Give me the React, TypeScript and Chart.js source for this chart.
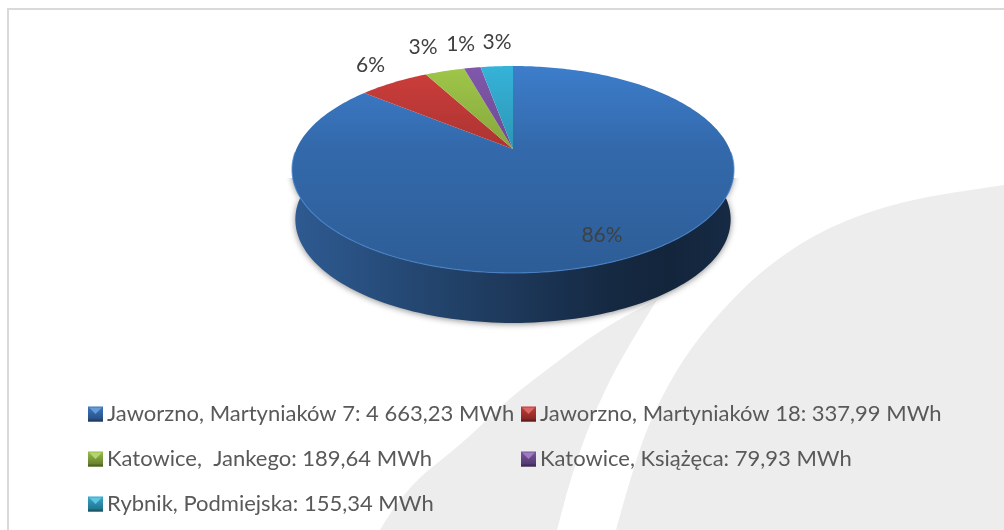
import React, { useEffect, useRef } from "react";
import { Chart, registerables } from "chart.js";

Chart.register(...registerables);

const places = [
  "Jaworzno, Martyniaków 7",
  "Jaworzno, Martyniaków 18",
  "Katowice,  Jankego",
  "Katowice, Książęca",
  "Rybnik, Podmiejska",
];
const energyMWh = [4663.23, 337.99, 189.64, 79.93, 155.34];
const sliceColors = ["#3D7DCB", "#CD3E3B", "#9FC749", "#8158AC", "#35B3D8"];

const W = 1004;
const H = 530;
const FONT = "Lato, 'Open Sans', sans-serif";

// Perspective of the disc
const P = { cx: 513, cy: 149, A: 216.6, B: 99.4, a: 0.198, depth: 50, baseScale: 0.985 };

const proj = (phi: number, t = 1) => {
  const w = 1 + P.a * t * Math.cos(phi);
  return { x: P.cx + (P.A * t * Math.sin(phi)) / w, y: P.cy - (P.B * t * Math.cos(phi)) / w };
};
const projBase = (phi: number) => {
  const p = proj(phi);
  return { x: P.cx + (p.x - P.cx) * P.baseScale, y: p.y + P.depth };
};

const shade = (hex: string, f: number) => {
  const n = parseInt(hex.slice(1), 16);
  const c = [(n >> 16) & 255, (n >> 8) & 255, n & 255].map((v) => Math.round(v * f));
  return `rgb(${c[0]},${c[1]},${c[2]})`;
};
const lighten = (hex: string, f: number) => {
  const n = parseInt(hex.slice(1), 16);
  const c = [(n >> 16) & 255, (n >> 8) & 255, n & 255].map((v) => Math.round(v + (255 - v) * f));
  return `rgb(${c[0]},${c[1]},${c[2]})`;
};

const formatMWh = (v: number) => {
  const [i, d] = v.toFixed(2).split(".");
  return `${i.replace(/\B(?=(\d{3})+$)/g, " ")},${d} MWh`;
};

const smooth = (ctx: CanvasRenderingContext2D, pts: number[][]) => {
  ctx.lineTo(pts[0][0], pts[0][1]);
  for (let i = 1; i < pts.length - 1; i++) {
    const mx = (pts[i][0] + pts[i + 1][0]) / 2;
    const my = (pts[i][1] + pts[i + 1][1]) / 2;
    ctx.quadraticCurveTo(pts[i][0], pts[i][1], mx, my);
  }
  const last = pts[pts.length - 1];
  ctx.lineTo(last[0], last[1]);
};

const backdrop = {
  id: "backdrop",
  beforeDraw(chart: any) {
    const ctx: CanvasRenderingContext2D = chart.ctx;
    ctx.save();
    ctx.fillStyle = "#FFFFFF";
    ctx.fillRect(0, 0, W, H);
    ctx.fillStyle = "#EDEDED";
    ctx.beginPath();
    ctx.moveTo(380, 530);
    smooth(ctx, [[380, 530], [403, 490], [463, 443], [504, 403], [537, 377], [604, 327], [657, 300]]);
    smooth(ctx, [[657, 300], [621, 357], [591, 420], [571, 477], [557, 530]]);
    ctx.closePath();
    ctx.fill();
    ctx.beginPath();
    ctx.moveTo(616, 530);
    smooth(ctx, [[616, 530], [637, 453], [661, 397], [691, 347], [731, 300], [771, 263], [827, 227], [904, 200], [1004, 185]]);
    ctx.lineTo(1004, 530);
    ctx.closePath();
    ctx.fill();
    ctx.fillStyle = "#D9D9D9";
    ctx.fillRect(7, 8, W - 7, 2);
    ctx.fillRect(7, 8, 2, H - 8);
    ctx.restore();
  },
};

const pie3d = {
  id: "pie3d",
  beforeDatasetsDraw(chart: any) {
    const ctx: CanvasRenderingContext2D = chart.ctx;
    const arcs = chart.getDatasetMeta(0).data;
    const colors: string[] = chart.data.datasets[0].backgroundColor;
    const topY = proj(0).y;
    const botY = proj(Math.PI).y;
    const spin = (ang: number) => ang + Math.PI / 2;
    const FRONT_A = (60 * Math.PI) / 180;
    const FRONT_B = (300 * Math.PI) / 180;
    const RIM_A = (92 * Math.PI) / 180;
    const RIM_B = (268 * Math.PI) / 180;

    ctx.save();
    // walls: keep the soft shadow below the widest line of the disc
    arcs.forEach((arc: any) => {
      const s = Math.max(spin(arc.startAngle), FRONT_A);
      const e = Math.min(spin(arc.endAngle), FRONT_B);
      if (e <= s) return;
      const wall = ctx.createLinearGradient(296, 0, 732, 0);
      [[0, 0.66], [0.12, 0.6], [0.3, 0.5], [0.5, 0.41], [0.72, 0.3], [0.85, 0.27], [1, 0.31]].forEach(([o, f]) =>
        wall.addColorStop(o, shade("#4689DC", f))
      );
      ctx.save();
      ctx.beginPath();
      ctx.rect(0, 178, W, H - 178);
      ctx.clip();
      ctx.beginPath();
      const n = 160;
      for (let i = 0; i <= n; i++) {
        const p = proj(s + ((e - s) * i) / n);
        i ? ctx.lineTo(p.x, p.y) : ctx.moveTo(p.x, p.y);
      }
      for (let i = n; i >= 0; i--) {
        const p = projBase(s + ((e - s) * i) / n);
        ctx.lineTo(p.x, p.y);
      }
      ctx.closePath();
      ctx.shadowColor = "rgba(0,0,0,0.45)";
      ctx.shadowBlur = 6;
      ctx.shadowOffsetY = 1;
      ctx.fillStyle = wall;
      ctx.fill();
      ctx.restore();
    });
    // top faces
    arcs.forEach((arc: any, i: number) => {
      const s = spin(arc.startAngle);
      const e = spin(arc.endAngle);
      const g = ctx.createLinearGradient(0, topY, 0, botY);
      g.addColorStop(0, colors[i]);
      g.addColorStop(0.4, shade(colors[i], 0.84));
      g.addColorStop(1, shade(colors[i], 0.74));
      ctx.beginPath();
      ctx.moveTo(proj(0, 0).x, proj(0, 0).y);
      const n = Math.max(4, Math.ceil((e - s) * 60));
      for (let k = 0; k <= n; k++) {
        const p = proj(s + ((e - s) * k) / n);
        ctx.lineTo(p.x, p.y);
      }
      ctx.closePath();
      ctx.fillStyle = g;
      ctx.fill();
      // bevel rim on the front edge
      const rs = Math.max(s, RIM_A);
      const re = Math.min(e, RIM_B);
      if (re > rs) {
        ctx.beginPath();
        for (let k = 0; k <= 160; k++) {
          const p = proj(rs + ((re - rs) * k) / 160);
          k ? ctx.lineTo(p.x, p.y) : ctx.moveTo(p.x, p.y);
        }
        ctx.strokeStyle = lighten(colors[i], 0.06);
        ctx.globalAlpha = 0.75;
        ctx.lineWidth = 1.2;
        ctx.stroke();
        ctx.globalAlpha = 1;
      }
    });
    ctx.restore();
    return false;
  },
  afterDraw(chart: any) {
    const ctx: CanvasRenderingContext2D = chart.ctx;
    const arcs = chart.getDatasetMeta(0).data;
    const values: number[] = chart.data.datasets[0].data;
    const colors: string[] = chart.data.datasets[0].backgroundColor;
    const total = values.reduce((a, b) => a + b, 0);
    // percent labels
    const reach = [0.82, 1.2, 1.2, 1.2, 1.2];
    const nudge = [[0, 0], [-3, -6], [-10.5, -11], [-5, -10.6], [3, -11]];
    ctx.save();
    ctx.font = `21px ${FONT}`;
    ctx.fillStyle = "#404040";
    ctx.textAlign = "center";
    ctx.textBaseline = "middle";
    arcs.forEach((arc: any, i: number) => {
      const mid = (arc.startAngle + arc.endAngle) / 2 + Math.PI / 2;
      const p = proj(mid, reach[i]);
      ctx.fillText(`${Math.round((values[i] / total) * 100)}%`, p.x + nudge[i][0], p.y + nudge[i][1]);
    });
    // legend
    const cols = [88, 521];
    const rows = [414, 459, 504];
    const box = 15;
    ctx.font = `22px ${FONT}`;
    ctx.textAlign = "left";
    chart.data.labels.forEach((label: string, i: number) => {
      const x = cols[i % 2];
      const y = rows[Math.floor(i / 2)];
      const c = colors[i];
      const g = ctx.createLinearGradient(0, y - box / 2, 0, y + box / 2);
      g.addColorStop(0, shade(c, 0.95));
      g.addColorStop(1, shade(c, 0.6));
      ctx.fillStyle = g;
      ctx.fillRect(x, y - box / 2, box, box);
      ctx.fillStyle = lighten(c, 0.22);
      ctx.beginPath();
      ctx.moveTo(x + 1, y - box / 2 + 1);
      ctx.lineTo(x + box - 1, y - box / 2 + 1);
      ctx.lineTo(x + box / 2, y);
      ctx.closePath();
      ctx.fill();
      ctx.fillStyle = shade(c, 0.5);
      ctx.fillRect(x, y + box / 2 - 2, box, 2);
      ctx.fillStyle = "#595959";
      ctx.fillText(`${label}: ${formatMWh(values[i])}`, x + box + 4, y);
    });
    ctx.restore();
  },
};

export default function App() {
  const ref = useRef<HTMLCanvasElement>(null);
  useEffect(() => {
    const chart = new Chart(ref.current as HTMLCanvasElement, {
      type: "pie",
      data: {
        labels: places,
        datasets: [{ data: energyMWh, backgroundColor: sliceColors, borderWidth: 0 }],
      },
      options: {
        responsive: false,
        animation: false,
        plugins: { legend: { display: false }, tooltip: { enabled: false } },
      },
      plugins: [backdrop, pie3d],
    } as any);
    return () => chart.destroy();
  }, []);
  return (
    <div style={{ position: "absolute", left: 0, top: 0, width: W, height: H }}>
      <canvas ref={ref} width={W} height={H} style={{ display: "block" }} />
    </div>
  );
}
